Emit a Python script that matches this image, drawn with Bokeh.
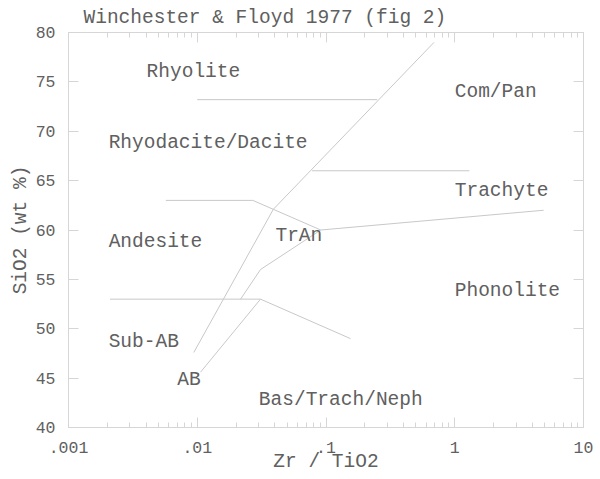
from bokeh.plotting import figure
from bokeh.models import (Range1d, LogAxis, LinearAxis, FixedTicker, ColumnDataSource)
from bokeh.core.properties import value
from bokeh.embed import file_html
from bokeh.resources import INLINE

# ---------------- data ----------------
title_text = "Winchester & Floyd 1977 (fig 2)"
x_label = "Zr / TiO2"
y_label = "SiO2 (wt %)"

x_ticks = [0.001, 0.01, 0.1, 1, 10]
x_tick_labels = [".001", ".01", ".1", "1", "10"]
y_ticks = [40, 45, 50, 55, 60, 65, 70, 75, 80]

# boundary lines (Zr/TiO2, SiO2)
subab_x = [0.0094, 0.039, 0.69]
subab_y = [47.6, 62.1, 79.0]
ab_x = [0.0106, 0.031]
ab_y = [45.6, 53.0]
l53_x = [0.0021, 0.031, 0.155]
l53_y = [53.0, 53.0, 49.0]
tran_low_x = [0.0217, 0.031, 0.091]
tran_low_y = [53.0, 56.0, 60.0]
andes_x = [0.0057, 0.027, 0.091]
andes_y = [63.0, 63.0, 60.0]
trach_ph_x = [0.091, 4.9]
trach_ph_y = [60.0, 62.0]
rhyo_x = [0.01, 0.25]
rhyo_y = [73.2, 73.2]
compan_x = [0.078, 1.3]
compan_y = [66.0, 66.0]

field_names = ["Rhyolite", "Rhyodacite/Dacite", "Com/Pan", "Trachyte", "Andesite",
               "TrAn", "Phonolite", "Sub-AB", "AB", "Bas/Trach/Neph"]
field_x = [0.00404, 0.00205, 1.0, 1.0, 0.00205, 0.0405, 1.0, 0.00205, 0.00699, 0.0301]
field_y = [76.0, 68.8, 74.0, 63.9, 58.8, 59.4, 53.8, 48.7, 44.85, 42.8]

# ---------------- style ----------------
FONT = "Liberation Mono"
TXT = "#606060"
LINE = "#c8c8c8"
FRAME = "#d6d6d6"

minor = [m * d for d in [0.001, 0.01, 0.1, 1] for m in range(2, 10)]

p = figure(width=600, height=479, x_axis_type="log",
           x_range=Range1d(0.001, 10), y_range=Range1d(40, 80),
           output_backend="svg", toolbar_location=None,
           min_border_left=68, min_border_right=17, min_border_top=32, min_border_bottom=52)

p.title.text = title_text
p.title.text_font = FONT
p.title.text_font_size = "19.5px"
p.title.text_font_style = "normal"
p.title.text_color = TXT
p.title.align = "left"
p.title.offset = 15
p.title.standoff = 8

p.grid.visible = False
p.outline_line_color = FRAME
p.background_fill_color = "white"
p.border_fill_color = "white"

xt = FixedTicker(ticks=x_ticks, minor_ticks=minor)
yt = FixedTicker(ticks=y_ticks, minor_ticks=[])

def style(ax, labels=True):
    ax.axis_line_color = FRAME
    ax.major_tick_line_color = FRAME
    ax.minor_tick_line_color = FRAME
    ax.major_tick_out = 0
    ax.major_tick_in = 10
    ax.minor_tick_out = 0
    ax.minor_tick_in = 5
    ax.major_label_text_font = FONT
    ax.major_label_text_font_size = "16.5px" if labels else "1px"
    ax.major_label_text_color = TXT if labels else None
    ax.axis_label_text_font = FONT
    ax.axis_label_text_font_size = "19.5px"
    ax.axis_label_text_font_style = "normal"
    ax.axis_label_text_color = TXT

xa = p.xaxis[0]
xa.ticker = xt
xa.major_label_overrides = {t: l for t, l in zip(x_ticks, x_tick_labels)}
xa.axis_label = x_label
style(xa)
xa.major_label_standoff = 14
xa.axis_label_standoff = -5

ya = p.yaxis[0]
ya.ticker = yt
ya.axis_label = y_label
style(ya)
ya.major_label_standoff = 13
ya.axis_label_standoff = 1

top = LogAxis(ticker=xt)
style(top, labels=False)
top.major_label_standoff = 0
p.add_layout(top, "above")

right = LinearAxis(ticker=yt)
style(right, labels=False)
right.major_label_standoff = 0
p.add_layout(right, "right")

for xs, ys in [(subab_x, subab_y), (ab_x, ab_y), (l53_x, l53_y), (tran_low_x, tran_low_y),
               (andes_x, andes_y), (trach_ph_x, trach_ph_y), (rhyo_x, rhyo_y), (compan_x, compan_y)]:
    p.line(xs, ys, line_color=LINE, line_width=1)

src = ColumnDataSource(dict(x=field_x, y=field_y, t=field_names))
p.text(x="x", y="y", text="t", source=src, text_font=value(FONT), text_font_size="19.5px",
       text_color=TXT, text_align="left", text_baseline="alphabetic")

open("out.html", "w").write(file_html(p, INLINE))
